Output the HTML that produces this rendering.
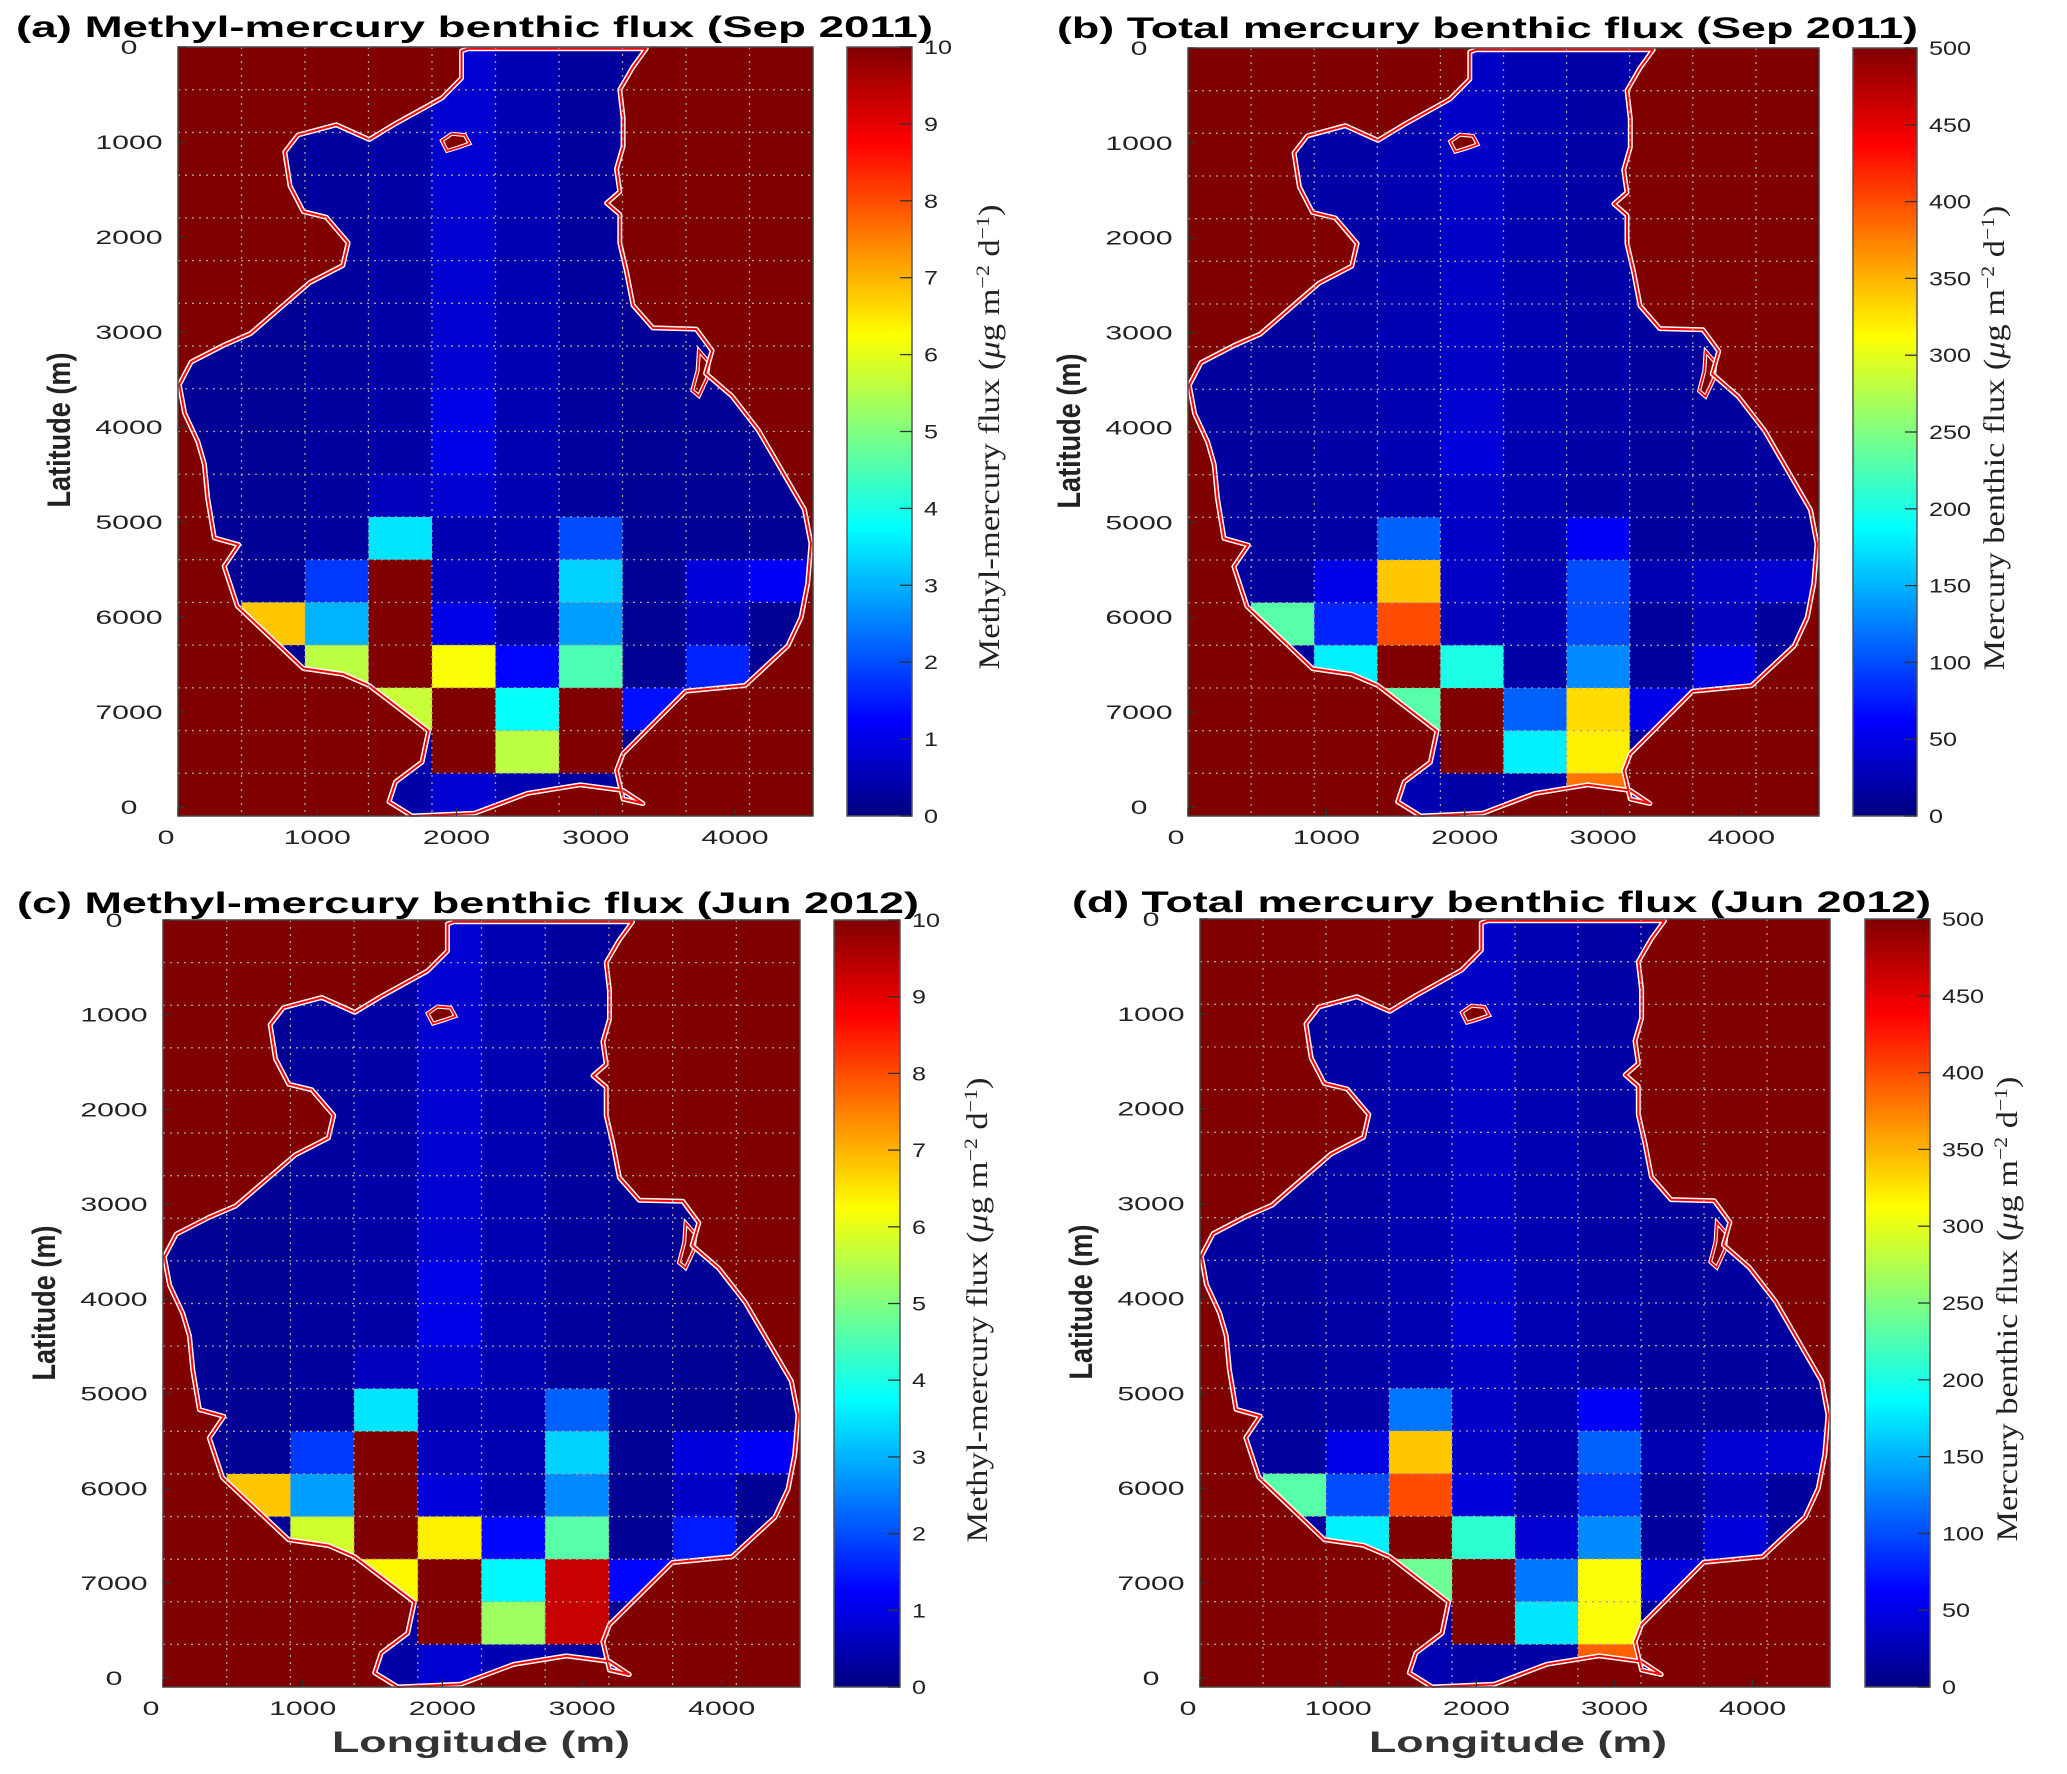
<!DOCTYPE html>
<html><head><meta charset="utf-8"><style>
html,body{margin:0;padding:0;background:#fff;}
svg{display:block;}
text{font-family:"Liberation Sans",sans-serif;}
</style></head>
<body>
<svg id="fig" width="2067" height="1774" viewBox="0 0 2067 1774" xmlns="http://www.w3.org/2000/svg"></svg>
<script>
// ---- data ----
const xTickValues = [0,1000,2000,3000,4000];
const xTickLabels = ['0','1000','2000','3000','4000'];
const yTickValues = [0,1000,2000,3000,4000,5000,6000,7000,8000];
const yTickLabels = ['0','1000','2000','3000','4000','5000','6000','7000','0'];
const methylTicks = [0,1,2,3,4,5,6,7,8,9,10];
const totalTicks = [0,50,100,150,200,250,300,350,400,450,500];
const aBase = [0.2,0.2,0.3,0.4,0.8,0.5,0.3,0.2,0.2,0.2];
const cBase = [0.2,0.2,0.3,0.4,0.8,0.5,0.3,0.2,0.2,0.2];
const bBase = [15,15,20,25,35,25,20,15,15,15];
const dBase = [15,15,20,25,35,25,20,15,15,15];
const aRows = [8,9,10,10,11,11,11,12,12,12,12,12,12,13,13,13,13,13,13,14,14,14,14,14,14,14,15,15,15,15,15,16,16,16];
const aCols = [4,4,4,3,3,6,4,2,3,6,8,9,4,1,2,3,4,6,8,1,2,3,4,5,6,8,3,4,5,6,7,4,5,6];
const aVals = [1.0,1.0,0.8,0.6,3.5,2.0,0.5,1.8,10,3.3,0.9,1.2,0.6,6.8,3.0,10,1.0,2.8,0.6,0.2,5.6,10,6.2,1.3,4.5,1.6,5.7,10,3.8,10,1.4,10,5.6,10];
const cRows = [8,9,10,10,11,11,11,12,12,12,12,12,12,13,13,13,13,13,13,14,14,14,14,14,14,14,15,15,15,15,15,16,16,16];
const cCols = [4,4,4,3,3,6,4,2,3,6,8,9,4,1,2,3,4,6,8,1,2,3,4,5,6,8,3,4,5,6,7,4,5,6];
const cVals = [1.0,1.0,0.8,0.6,3.5,2.2,0.5,1.8,10,3.3,0.9,1.2,0.6,6.8,2.8,10,0.9,2.6,0.7,0.2,5.8,10,6.4,1.3,4.6,1.5,6.3,10,3.7,9.3,1.3,10,5.3,9.3];
const bRows = [8,9,11,11,11,12,12,12,12,12,12,13,13,13,13,13,13,14,14,14,14,14,14,15,15,15,15,15,16,16,16,17,17,17];
const bCols = [4,4,3,6,4,2,3,6,7,8,9,1,2,3,4,6,8,2,3,4,5,6,8,3,4,5,6,7,4,5,6,6,4,5];
const bVals = [40,45,110,60,35,50,340,100,25,35,40,230,80,400,30,100,30,180,500,200,20,130,50,230,500,110,330,50,500,180,320,380,20,20];
const dRows = [8,9,11,11,11,12,12,12,12,12,12,13,13,13,13,13,13,14,14,14,14,14,14,15,15,15,15,15,16,16,16,17,17,17];
const dCols = [4,4,3,6,4,2,3,6,7,8,9,1,2,3,4,6,8,2,3,4,5,6,8,3,4,5,6,7,4,5,6,6,4,5];
const dVals = [40,45,120,60,35,50,340,110,25,40,40,230,100,400,45,90,30,180,500,210,40,130,45,240,500,120,310,45,500,175,310,390,20,20];

const lakeZ = [[700,92],[710,88],[980,88],[960,120],[940,160],[945,210],[945,260],[935,300],[940,340],[920,360],[940,380],[940,430],[950,480],[960,540],[990,580],[1056,582],[1080,620],[1070,660],[1110,700],[1150,760],[1180,820],[1220,900],[1230,960],[1225,1030],[1215,1090],[1195,1140],[1130,1210],[1040,1220],[945,1330],[935,1360],[945,1410],[975,1418],[945,1395],[880,1385],[800,1400],[720,1435],[625,1440],[590,1415],[600,1380],[640,1345],[650,1290],[560,1210],[520,1190],[460,1180],[360,1070],[340,1000],[362,962],[325,950],[315,880],[310,820],[300,780],[280,730],[272,680],[290,640],[340,610],[380,590],[440,530],[470,500],[520,470],[528,430],[495,385],[460,375],[440,330],[432,270],[452,240],[510,222],[560,248],[600,220],[670,175],[700,140]];
const island1Z = [[670,250],[685,238],[705,240],[712,255],[695,262],[678,268]];
const island2Z = [[1060,620],[1075,640],[1072,670],[1060,700],[1050,690],[1058,655]];

const NS = 'http://www.w3.org/2000/svg';
const svg = document.getElementById('fig');
function el(tag, attrs, parent){const e=document.createElementNS(NS,tag);for(const k in attrs)e.setAttribute(k,attrs[k]);(parent||svg).appendChild(e);return e;}
function jet(t){t=Math.max(0,Math.min(1,t));const c=v=>Math.round(255*Math.max(0,Math.min(1,v)));
 return 'rgb('+c(1.5-Math.abs(4*t-3))+','+c(1.5-Math.abs(4*t-2))+','+c(1.5-Math.abs(4*t-1))+')';}

const XMAX=4560, YMAX=8095, NC=10, NR=18;

function panel(id, g, title, tl, base, rows, cols, vals, vmax, cbTicks, cbLabel, showX){
  const grp = el('g',{});
  
  
  const W=g.R-g.L, H=g.B-g.T;
  const xs = v=>g.L+v/XMAX*W, ys = v=>g.T+v/YMAX*H;
  const t = el('text',{x:g.tx,y:g.ty,'font-size':30,'font-weight':'bold',textLength:tl,lengthAdjust:'spacingAndGlyphs',fill:'#000'},grp);
  t.textContent=title;
  
  
  const bg = el('rect',{x:g.L,y:g.T,width:W,height:H,fill:'#800000'},grp);
  
  
  const toPts = arr=>arr.map(p=>(g.L+(p[0]-270)/963*W).toFixed(1)+','+(g.T+(p[1]-85)/1355*H).toFixed(1)).join(' ');
  const cp = el('clipPath',{id:'clip-'+id},grp);
  el('polygon',{points:toPts(lakeZ)},cp);
  const cells = el('g',{'clip-path':'url(#clip-'+id+')'},grp);
  
  
  const cw=W/NC, ch=H/NR;
  const grid=[];
  for(let r=0;r<NR;r++){grid.push([]);for(let c=0;c<NC;c++)grid[r].push(base[c]);}
  for(let i=0;i<rows.length;i++) grid[rows[i]][cols[i]]=vals[i];
  for(let r=0;r<NR;r++)for(let c=0;c<NC;c++){
    const rc=el('rect',{x:(g.L+c*cw).toFixed(2),y:(g.T+r*ch).toFixed(2),width:(cw+0.6).toFixed(2),height:(ch+0.6).toFixed(2),fill:jet(grid[r][c]/vmax)},cells);
    
    
  }
  [island1Z,island2Z].forEach(isl=>{el('polygon',{points:toPts(isl),fill:'#800000',stroke:'#fff','stroke-width':4},grp);el('polygon',{points:toPts(isl),fill:'none',stroke:'#f00','stroke-width':1.8},grp);});
  el('polygon',{points:toPts(lakeZ),fill:'none',stroke:'#fff','stroke-width':5,'stroke-linejoin':'round'},grp);
  const o2=el('polygon',{points:toPts(lakeZ),fill:'none',stroke:'#ff0000','stroke-width':2,'stroke-linejoin':'round'},grp);
  
  
  for(let c=1;c<NC;c++) el('line',{x1:g.L+c*cw,x2:g.L+c*cw,y1:g.T,y2:g.B,stroke:'#b0a0a0','stroke-width':1.3,'stroke-dasharray':'2,5'},grp);
  for(let r=1;r<NR;r++) el('line',{x1:g.L,x2:g.R,y1:g.T+r*ch,y2:g.T+r*ch,stroke:'#b0a0a0','stroke-width':1.3,'stroke-dasharray':'2,5'},grp);
  el('rect',{x:g.L,y:g.T,width:W,height:H,fill:'none',stroke:'#444','stroke-width':1.5},grp);
  yTickValues.forEach((v,i)=>{
    el('line',{x1:g.L,x2:g.L+8,y1:ys(v),y2:ys(v),stroke:'#333','stroke-width':1.3},grp);
    const tx=el('text',{x:g.L-49,y:ys(v)+7,'font-size':19,'text-anchor':'middle',fill:'#222',textLength:yTickLabels[i].length*16.8,lengthAdjust:'spacingAndGlyphs'},grp);
    tx.textContent=yTickLabels[i];
    
    
  });
  xTickValues.forEach((v,i)=>{
    el('line',{x1:xs(v),x2:xs(v),y1:g.B,y2:g.B-8,stroke:'#333','stroke-width':1.3},grp);
    const tx=el('text',{x:xs(v)-(v===0?12:0),y:g.B+28,'font-size':19,'text-anchor':'middle',fill:'#222',textLength:xTickLabels[i].length*16.8,lengthAdjust:'spacingAndGlyphs'},grp);
    tx.textContent=xTickLabels[i];
    
    
  });
  const yl=el('text',{x:0,y:0,'font-size':32,'font-weight':'bold','text-anchor':'middle',fill:'#222',textLength:155,lengthAdjust:'spacingAndGlyphs',transform:'translate('+(g.L-108)+','+(g.T+383)+') rotate(-90)'},grp);
  yl.textContent='Latitude (m)';
  
  
  if(showX){
    const xl=el('text',{x:g.L+318,y:g.B+65,'font-size':30,'font-weight':'bold','text-anchor':'middle',fill:'#333',textLength:298,lengthAdjust:'spacingAndGlyphs'},grp);
    xl.textContent='Longitude (m)';
    
    
  }
  const gid='grad-'+id;
  const lg=el('linearGradient',{id:gid,x1:0,y1:1,x2:0,y2:0},grp);
  for(let k=0;k<=40;k++) el('stop',{offset:(k/40),'stop-color':jet(k/40)},lg);
  const cb=el('rect',{x:g.cL,y:g.T,width:g.cR-g.cL,height:H,fill:'url(#'+gid+')',stroke:'#555','stroke-width':1.5},grp);
  
  
  cbTicks.forEach(v=>{
    const y=g.B-v/vmax*H;
    el('line',{x1:g.cR-12,x2:g.cR,y1:y,y2:y,stroke:'#333','stroke-width':1.3},grp);
    const s=String(v);
    const tx=el('text',{x:g.cR+12,y:y+7,'font-size':19,fill:'#222',textLength:s.length*14,lengthAdjust:'spacingAndGlyphs'},grp);
    tx.textContent=s;
    
    
  });
  const cl=el('text',{x:0,y:0,'font-size':30,'text-anchor':'middle',fill:'#222','font-family':'"Liberation Serif",serif',textLength:465,lengthAdjust:'spacingAndGlyphs',transform:'translate('+(g.cR+87)+','+(g.T+390)+') rotate(-90)'},grp);
  cl.style.fontFamily='"Liberation Serif",serif';
  cl.innerHTML=cbLabel+' (<tspan font-style="italic">μ</tspan>g m<tspan baseline-shift="super" font-size="19">−2</tspan> d<tspan baseline-shift="super" font-size="19">−1</tspan>)';
  
  
}

panel('a',{L:178,T:47,R:813,B:816,cL:847,cR:912,tx:16,ty:37},'(a) Methyl-mercury benthic flux (Sep 2011)',917,aBase,aRows,aCols,aVals,10,methylTicks,'Methyl-mercury flux',false);
panel('b',{L:1188,T:48,R:1819,B:816,cL:1853,cR:1917,tx:1057,ty:38},'(b) Total mercury benthic flux (Sep 2011)',861,bBase,bRows,bCols,bVals,500,totalTicks,'Mercury benthic flux',false);
panel('c',{L:163,T:920,R:800,B:1687,cL:834,cR:900,tx:17,ty:913},'(c) Methyl-mercury benthic flux (Jun 2012)',902,cBase,cRows,cCols,cVals,10,methylTicks,'Methyl-mercury flux',true);
panel('d',{L:1200,T:919,R:1830,B:1687,cL:1865,cR:1930,tx:1072,ty:912},'(d) Total mercury benthic flux (Jun 2012)',859,dBase,dRows,dCols,dVals,500,totalTicks,'Mercury benthic flux',true);
</script>
</body></html>
